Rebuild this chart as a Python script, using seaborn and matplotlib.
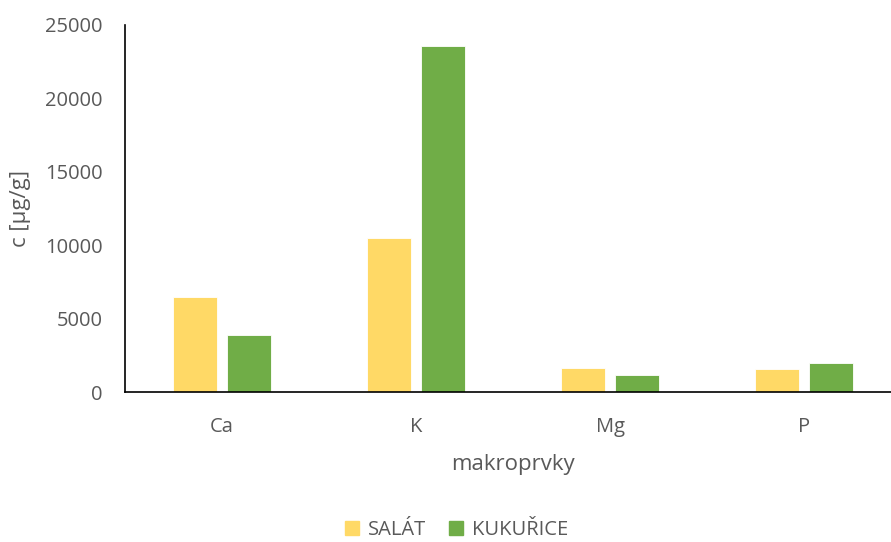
import pandas as pd
import seaborn as sns
import matplotlib.pyplot as plt

# data
prvky = ["Ca", "K", "Mg", "P"]
salat = [6450, 10490, 1610, 1545]
kukurice = [3860, 23590, 1160, 1955]
serie = ["SALÁT", "KUKUŘICE"]
barvy = ["#FFD966", "#70AD47"]

df = pd.DataFrame({
    "prvek": prvky * 2,
    "c": salat + kukurice,
    "vzorek": [serie[0]] * len(prvky) + [serie[1]] * len(prvky),
})

sns.set_style("white")
plt.rcParams["font.family"] = ["Open Sans", "DejaVu Sans"]
sedi = "#595959"

fig = plt.figure(figsize=(8.91, 5.42), dpi=100)
ax = fig.add_axes([125 / 891, 150 / 542, 776 / 891, 367 / 542])

sns.barplot(data=df, x="prvek", y="c", hue="vzorek", palette=barvy,
            saturation=1, width=0.567, gap=0.2, edgecolor="white",
            linewidth=0.6, legend=False, ax=ax)

ax.set_xlim(-0.5, 3.5)
ax.set_ylim(0, 25000)
ax.set_yticks(range(0, 25001, 5000))
ax.tick_params(axis="both", length=0, labelsize=14.5, labelcolor=sedi)
ax.tick_params(axis="y", pad=16)
ax.tick_params(axis="x", pad=18)
for s in ["top", "right"]:
    ax.spines[s].set_visible(False)
for s in ["left", "bottom"]:
    ax.spines[s].set_color("black")
    ax.spines[s].set_linewidth(1.2)

ax.set_xlabel("makroprvky", fontsize=16, color=sedi, labelpad=12)
ax.set_ylabel("c [µg/g]", fontsize=16, color=sedi, labelpad=10)

handles = [plt.Line2D([], [], marker="s", linestyle="", markersize=10,
                      color=b) for b in barvy]
fig.legend(handles, serie, loc="center", bbox_to_anchor=(455 / 891, 1 - 530 / 542),
           ncol=2, frameon=False, fontsize=14.5, labelcolor=sedi,
           handlelength=1.0, handletextpad=0.3, columnspacing=1.0)

fig.savefig("out.png", dpi=100)
